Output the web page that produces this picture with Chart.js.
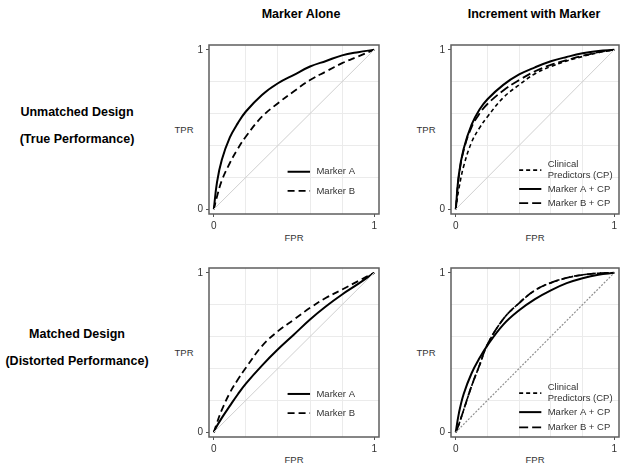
<!DOCTYPE html>
<html>
<head>
<meta charset="utf-8">
<script src="https://cdn.jsdelivr.net/npm/chart.js@4.4.0/dist/chart.umd.min.js"></script>
<style>
  body { margin: 0; background: #fff; }
  #page { position: relative; width: 633px; height: 472px; overflow: hidden; font-family: 'Liberation Sans', Arial, sans-serif; color: #000; }
  .lbl { position: absolute; white-space: nowrap; transform: translate(-50%, -50%); }
  .head { font-weight: bold; font-size: 12.5px; }
  .ax { font-size: 9.5px; color: #333; }
  canvas { position: absolute; }
</style>
</head>
<body>
<div id="page">
  <div class="lbl head" style="left:301px;top:14px">Marker Alone</div>
  <div class="lbl head" style="left:534px;top:14px">Increment with Marker</div>

  <div class="lbl head" style="left:77px;top:112px">Unmatched Design</div>
  <div class="lbl head" style="left:77px;top:139px">(True Performance)</div>
  <div class="lbl head" style="left:77px;top:334px">Matched Design</div>
  <div class="lbl head" style="left:77px;top:361px">(Distorted Performance)</div>

  <div class="lbl ax" style="left:184px;top:129px">TPR</div>
  <div class="lbl ax" style="left:426px;top:129px">TPR</div>
  <div class="lbl ax" style="left:184px;top:352px">TPR</div>
  <div class="lbl ax" style="left:426px;top:352px">TPR</div>
  <div class="lbl ax" style="left:294px;top:237px">FPR</div>
  <div class="lbl ax" style="left:535px;top:237px">FPR</div>
  <div class="lbl ax" style="left:294px;top:459px">FPR</div>
  <div class="lbl ax" style="left:535px;top:459px">FPR</div>

  <canvas id="p1"></canvas>
  <canvas id="p2"></canvas>
  <canvas id="p3"></canvas>
  <canvas id="p4"></canvas>
</div>

<script>
// False positive rates shared by every curve
const fpr = [0, 0.02, 0.05, 0.1, 0.15, 0.2, 0.3, 0.4, 0.5, 0.6, 0.7, 0.8, 0.9, 1];
const chanceLine = [0, 1];

// Unmatched design (true performance)
const unmatchedA = [0, 0.17, 0.31, 0.45, 0.54, 0.613, 0.717, 0.79, 0.843, 0.895, 0.93, 0.965, 0.985, 1];
const unmatchedB = [0, 0.08, 0.18, 0.29, 0.38, 0.456, 0.58, 0.665, 0.74, 0.81, 0.864, 0.916, 0.958, 1];
const unmatchedCP = [0, 0.13, 0.27, 0.42, 0.51, 0.58, 0.70, 0.78, 0.85, 0.895, 0.93, 0.958, 0.982, 1];
const unmatchedACP = [0, 0.22, 0.38, 0.53, 0.625, 0.69, 0.78, 0.845, 0.89, 0.928, 0.955, 0.978, 0.993, 1];
const unmatchedBCP = [0, 0.21, 0.37, 0.515, 0.60, 0.66, 0.745, 0.81, 0.865, 0.905, 0.935, 0.962, 0.985, 1];

// Matched design (distorted performance)
const matchedA = [0, 0.04, 0.09, 0.165, 0.238, 0.305, 0.418, 0.52, 0.613, 0.707, 0.79, 0.864, 0.93, 1];
const matchedB = [0, 0.06, 0.14, 0.247, 0.33, 0.404, 0.54, 0.634, 0.707, 0.78, 0.843, 0.895, 0.948, 1];
const matchedCP = [0, 0.05, 0.14, 0.29, 0.42, 0.55, 0.71, 0.81, 0.89, 0.937, 0.968, 0.987, 0.997, 1];
const matchedACP = [0, 0.12, 0.24, 0.37, 0.465, 0.545, 0.675, 0.765, 0.835, 0.89, 0.935, 0.966, 0.988, 1];
const matchedBCP = [0, 0.05, 0.14, 0.29, 0.42, 0.55, 0.71, 0.81, 0.89, 0.937, 0.968, 0.987, 0.997, 1];

// Axis ticks and legend text
const axisTicks = [0, 0.2, 0.4, 0.6, 0.8, 1];
const labelledTicks = [0, 1];
const legendAlone = ['Marker A', 'Marker B'];
const legendIncrement = [['Clinical', 'Predictors (CP)'], 'Marker A + CP', 'Marker B + CP'];

const FONT = "'Liberation Sans', Arial, sans-serif";

// Build a smooth ROC curve dataset
function rocLine(ys, dash, width, color) {
  return {
    data: fpr.map((x, i) => ({ x: x, y: ys[i] })),
    borderColor: color || '#000',
    borderWidth: width,
    borderDash: dash,
    showLine: true,
    pointRadius: 0,
    tension: 0.4
  };
}

function chanceDataset(color, dash, width) {
  return {
    data: chanceLine.map(v => ({ x: v, y: v })),
    borderColor: color,
    borderWidth: width,
    borderDash: dash,
    showLine: true,
    pointRadius: 0
  };
}

// Frame around the plot + legend inside the panel
const insetLegend = {
  id: 'insetLegend',
  afterDatasetsDraw(chart, args, opts) {
    const { ctx, chartArea: a, scales: { x, y } } = chart;
    ctx.save();
    ctx.strokeStyle = '#5e5e5e';
    ctx.lineWidth = 1.5;
    ctx.setLineDash([]);
    ctx.strokeRect(a.left, a.top, a.right - a.left, a.bottom - a.top);

    ctx.font = '9.5px ' + FONT;
    ctx.fillStyle = '#333';
    ctx.textBaseline = 'middle';
    opts.rows.forEach(r => {
      const ds = chart.data.datasets[r.ds];
      const ly = y.getPixelForValue(r.at);
      ctx.strokeStyle = ds.borderColor;
      ctx.lineWidth = ds.borderWidth;
      ctx.setLineDash(ds.borderDash || []);
      ctx.beginPath();
      ctx.moveTo(x.getPixelForValue(opts.x0), ly);
      ctx.lineTo(x.getPixelForValue(opts.x1), ly);
      ctx.stroke();
      ctx.setLineDash([]);
      const lines = [].concat(r.text);
      lines.forEach((t, i) => {
        ctx.fillText(t, x.getPixelForValue(opts.xt), ly + (i - (lines.length - 1) / 2) * 11);
      });
    });
    ctx.restore();
  }
};

function axis(fixSize) {
  return {
    type: 'linear',
    min: -0.03,
    max: 1.03,
    afterBuildTicks: s => { s.ticks = axisTicks.map(v => ({ value: v })); },
    afterFit: fixSize,
    border: { display: false },
    grid: {
      color: c => labelledTicks.includes(c.tick.value) ? 'rgba(0,0,0,0)' : '#ebebeb',
      tickColor: c => labelledTicks.includes(c.tick.value) ? '#555' : 'rgba(0,0,0,0)',
      tickLength: 3,
      lineWidth: 1
    },
    ticks: {
      color: '#333',
      font: { family: FONT, size: 10 },
      padding: 3,
      maxRotation: 0,
      autoSkip: false,
      callback: v => labelledTicks.includes(v) ? String(v) : ''
    }
  };
}

// Place a canvas so that the plot frame lands at (left, top, w, h)
function makePanel(id, box, datasets, legend) {
  const cv = document.getElementById(id);
  const W = box.w + 40, H = box.h + 36;
  cv.style.left = (box.left - 30) + 'px';
  cv.style.top = (box.top - 10) + 'px';
  cv.style.width = W + 'px';
  cv.style.height = H + 'px';
  cv.width = W;
  cv.height = H;

  return new Chart(cv.getContext('2d'), {
    type: 'scatter',
    data: { datasets: datasets },
    options: {
      responsive: false,
      animation: false,
      layout: { padding: { left: 14, top: 10, right: 10, bottom: 10 } },
      plugins: {
        legend: { display: false },
        tooltip: { enabled: false },
        insetLegend: legend
      },
      scales: {
        x: axis(s => { s.height = 16; }),
        y: axis(s => { s.width = 16; })
      }
    },
    plugins: [insetLegend]
  });
}

document.addEventListener('DOMContentLoaded', function () {
  makePanel('p1', { left: 209, top: 45, w: 170, h: 169 }, [
    chanceDataset('#cfcfcf', [], 1),
    rocLine(unmatchedA, [], 2),
    rocLine(unmatchedB, [7, 4], 1.8)
  ], {
    x0: 0.46, x1: 0.6, xt: 0.64,
    rows: [
      { ds: 1, at: 0.235, text: legendAlone[0] },
      { ds: 2, at: 0.115, text: legendAlone[1] }
    ]
  });

  makePanel('p2', { left: 451, top: 45, w: 168, h: 169 }, [
    chanceDataset('#cfcfcf', [], 1),
    rocLine(unmatchedCP, [4, 3], 1.6),
    rocLine(unmatchedACP, [], 2),
    rocLine(unmatchedBCP, [9, 4], 1.8)
  ], {
    x0: 0.40, x1: 0.54, xt: 0.58,
    rows: [
      { ds: 1, at: 0.245, text: legendIncrement[0] },
      { ds: 2, at: 0.127, text: legendIncrement[1] },
      { ds: 3, at: 0.038, text: legendIncrement[2] }
    ]
  });

  makePanel('p3', { left: 209, top: 268, w: 170, h: 169 }, [
    chanceDataset('#cfcfcf', [], 1),
    rocLine(matchedA, [], 2),
    rocLine(matchedB, [7, 4], 1.8)
  ], {
    x0: 0.46, x1: 0.6, xt: 0.64,
    rows: [
      { ds: 1, at: 0.24, text: legendAlone[0] },
      { ds: 2, at: 0.12, text: legendAlone[1] }
    ]
  });

  makePanel('p4', { left: 451, top: 268, w: 168, h: 169 }, [
    chanceDataset('#8f8f8f', [2, 1.5], 1.2),
    rocLine(matchedCP, [4, 3], 1.6),
    rocLine(matchedACP, [], 2),
    rocLine(matchedBCP, [9, 4], 1.8)
  ], {
    x0: 0.40, x1: 0.54, xt: 0.58,
    rows: [
      { ds: 1, at: 0.245, text: legendIncrement[0] },
      { ds: 2, at: 0.126, text: legendIncrement[1] },
      { ds: 3, at: 0.03, text: legendIncrement[2] }
    ]
  });
});
</script>
</body>
</html>
